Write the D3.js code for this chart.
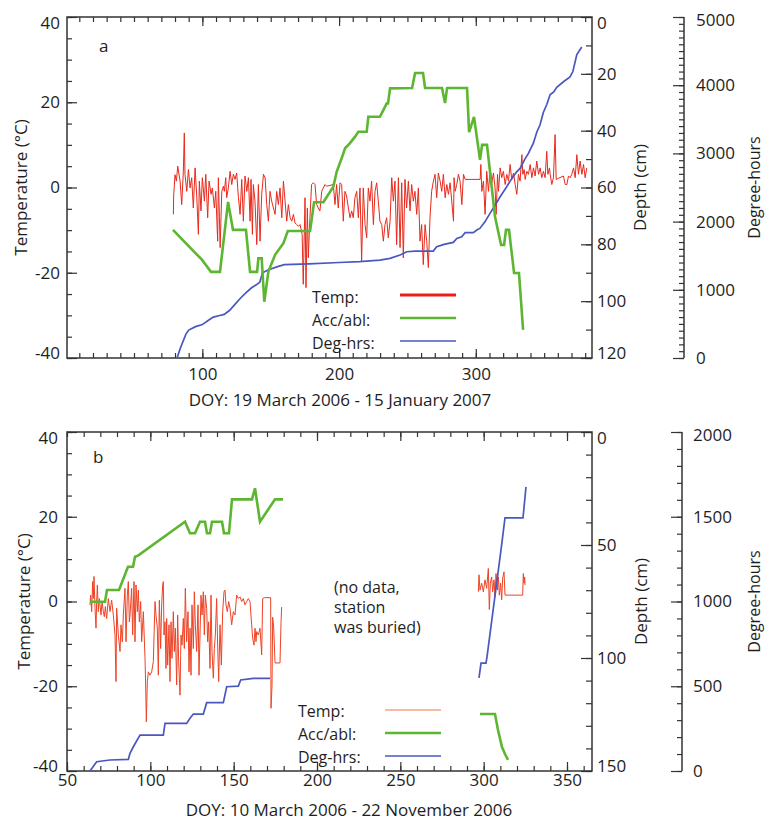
<!DOCTYPE html>
<html>
<head>
<meta charset="utf-8">
<script src="https://cdn.jsdelivr.net/npm/d3@7"></script>
<style>
    body { margin: 0; background: #fff; }
    svg text { font-family: "Open Sans", "Noto Sans", sans-serif; fill: #1e1e1e; }
</style>
</head>
<body>
<div id="chart"></div>
<script>
// ---- panel a: 19 March 2006 - 15 January 2007, [DOY, value] pairs ----
const tempA = [
    [78.8,-6.3],[79.0,-2.0],[80.0,3.0],[81,1.5],[82,5.0],[83.7,1.5],[84.9,-4.0],[86.1,3.8],[86.8,12.8],[87.3,3.1],
    [88.6,-0.9],[89.8,4.2],[91.0,-0.1],[92.2,2.3],[93.4,-4.8],[94.7,4.6],[95.9,-2.0],[97.1,-11.0],[97.8,1.5],[99.0,-5.5],
    [100.0,2.3],[101.5,-3.2],[102.5,3.1],[103.9,-7.1],[104.9,1.5],[106.4,-1.6],[107.3,-0.1],[108.8,-4.8],[109.8,-0.9],[111.2,-12.6],
    [111.7,2.3],[112.5,-7.1],[113.0,-14.1],[114.2,-0.9],[115.4,0.3],[116.1,-0.9],[117.1,2.3],[117.8,-2.4],[119.0,-0.1],[120.3,3.8],
    [121.5,0.7],[122.7,3.1],[123.9,1.9],[125.1,3.4],[126.4,-2.4],[127.6,-6.3],[128.8,1.9],[130.0,-7.9],[131.2,2.7],[132.5,-0.9],
    [133.7,2.3],[134.9,-7.9],[135.6,1.9],[136.6,-11.0],[137.3,0.7],[138.5,-3.2],[139.8,-13.4],[141.0,0.7],[142.2,-12.6],[143.4,-1.6],
    [144.7,3.1],[145.9,2.3],[147.1,-4.0],[148.3,-7.9],[149.5,-0.9],[150.7,-3.2],[152.0,-4.8],[153.2,-6.3],[154.4,-0.9],[155.6,-4.0],
    [156.8,-0.1],[158.1,-7.1],[159.3,1.5],[160.5,-3.2],[161.7,-7.9],[162.9,-4.0],[164.2,-7.1],[165.4,-7.9],[166.6,-6.3],[167.8,-8.3],
    [169.0,-8.7],[170.3,-9.1],[171.5,-8.7],[173.0,-11.0],[173.8,-22.7],[175.1,-2.4],[175.8,-23.5],[176.8,-4.8],[177.5,-16.5],[178.7,-7.1],
    [179.9,0.7],[181.2,1.1],[182.4,0.7],[183.6,-4.0],[184.8,-4.8],[186.0,-5.5],[187.3,-0.9],[188.5,-0.1],[189.7,0.7],[190.9,0.3],
    [195.8,0.7],[197.0,-4.0],[198.2,0.7],[199.4,-4.8],[200.7,1.1],[201.9,0.7],[203.1,-7.9],[204.3,-0.9],[205.5,-2.0],[206.8,-4.8],
    [208.0,-7.1],[209.2,-5.5],[210.4,-7.1],[211.6,-2.4],[212.9,-0.9],[214.1,-7.1],[215.3,-0.1],[216.5,-17.3],[217.7,-0.1],[219.0,-8.7],
    [220.2,-11.8],[221.4,-0.1],[222.6,-3.2],[223.8,1.5],[225.1,-8.7],[226.3,-0.9],[227.5,1.1],[228.7,-3.2],[229.9,-7.9],[231.2,-8.7],
    [232.4,-12.6],[233.6,-8.7],[234.8,-7.1],[236.0,-11.8],[237.3,-7.9],[238.5,2.3],[239.7,-3.2],[240.9,1.5],[242.1,-13.4],[243.4,2.3],
    [244.6,-14.1],[245.8,1.1],[247.0,-16.5],[248.2,1.9],[249.4,-4.8],[250.7,1.5],[251.9,-5.5],[253.1,0.7],[254.3,-3.2],[255.5,-0.9],
    [256.8,-6.3],[258.0,-0.1],[259.2,-12.6],[260.4,-8.7],[261.6,-18.1],[262.9,-8.7],[264.1,-12.6],[265.3,-18.8],[266.5,-7.1],[267.7,-0.9],
    [269.0,1.5],[270.2,3.1],[271.4,-2.4],[272.6,3.4],[273.9,1.5],[275.1,-0.9],[276.3,3.1],[277.6,-2.4],[278.8,0.7],[280.0,-1.6],
    [281.2,1.1],[282.4,-3.2],[283.7,-7.9],[284.1,2.3],[284.9,-0.9],[286.1,0.7],[287.3,3.1],[288.5,1.5],[289.8,-4.0],[291.0,3.1],
    [292.2,1.9],[303.2,1.9],[303.7,5.4],[304.4,-0.9],[305.6,1.5],[306.8,-6.3],[308.0,3.8],[309.3,-0.9],[310.5,4.6],[311.7,1.1],
    [312.9,3.4],[314.1,-0.1],[314.9,-6.3],[315.9,3.1],[316.6,-0.9],[317.8,4.6],[319.0,2.3],[320.2,3.8],[321.5,0.7],[322.7,3.1],
    [323.9,1.5],[325.1,5.4],[326.3,1.9],[327.6,3.4],[328.8,0.7],[330.0,-1.6],[331.2,3.1],[332.4,1.5],[333.7,7.7],[334.4,3.1],
    [335.4,4.2],[336.1,1.9],[337.3,3.8],[338.5,3.1],[339.8,5.4],[341.0,2.3],[342.2,4.6],[343.4,2.7],[344.6,6.2],[345.9,3.1],
    [347.1,4.6],[348.3,2.3],[349.5,3.8],[350.7,2.3],[351.9,8.5],[352.7,3.1],[353.9,4.6],[354.4,3.1],[355.6,0.7],[356.8,2.3],
    [358.0,12.4],[358.8,1.9],[364.1,2.7],[365.4,0.7],[366.6,0.7],[367.8,2.7],[369.0,2.3],[370.2,3.1],[371.5,4.6],[372.7,2.3],
    [373.9,7.7],[375.1,3.1],[376.3,6.2],[377.6,3.1],[378.8,5.4],[380.0,2.3],[381.2,4.6]
];

// accumulation / ablation, depth in cm
const accA = [
    [78.5,74.9],[99.8,85.5],[106.3,89.7],[112.9,89.7],[118.8,65.1],[122.4,74.9],[131.9,74.9],[134.9,89.7],[140.0,89.7],[141.0,84.9],
    [143.4,84.9],[145.3,100.2],[148.3,89.6],[153.2,83.7],[159.3,79.6],[162.5,75.3],[178.8,75.3],[181.7,65.2],[188.5,65.2],[195.8,59.7],
    [198.3,54.4],[201.9,49.7],[204.4,46.2],[208.0,44.4],[211.7,42.1],[214.1,40.4],[220.2,40.4],[221.4,35.1],[229.9,35.1],[234.9,30.4],
    [235.8,30.4],[237.3,25.1],[253.4,25.0],[255.6,19.7],[261.4,19.7],[262.9,25.0],[275.3,25.0],[277.5,30.3],[279.0,25.0],[293.6,25.0],
    [295.1,40.5],[298.7,35.2],[303.1,50.3],[304.6,45.0],[308.2,45.0],[314.1,70.4],[318.5,80.2],[320.7,80.2],[322.1,74.9],[324.3,74.9],
    [328.0,90.1],[331.6,90.1],[334.6,110.1]
];

// cumulative degree-hours
const degA = [
    [81.5,0],[84,150],[88,350],[90,410],[95,460],[100,490],[105,560],[108,600],[112,620],[116,640],
    [120,700],[124,790],[128,880],[132,960],[136,1030],[140,1080],[142,1110],[144,1250],[148,1290],[155,1340],
    [160,1370],[178,1380],[200,1400],[215,1412],[229.9,1436],[237.3,1461],[244.6,1510],[249.5,1558],[255.6,1568],[268.9,1568],
    [271.4,1631],[277.5,1670],[283.6,1695],[286.1,1754],[289.7,1778],[292.2,1837],[298.2,1837],[301,1880],[303,1900],[306.8,2000],
    [310.4,2120],[314.1,2240],[317.7,2360],[322.6,2510],[326.3,2630],[329.9,2730],[332.4,2780],[336,2920],[338.5,3000],[342.1,3150],
    [344.6,3310],[347,3420],[349.4,3600],[352,3720],[354.3,3860],[357,3900],[359.2,3970],[364.1,4050],[368.9,4120],[371,4200],
    [373.9,4450],[377.5,4560]
];

// ---- panel b: 10 March 2006 - 22 November 2006, two pieces around the buried period ----
const tempB1 = [
    [63.8,-0.8],[64.2,1.5],[64.8,-2.4],[65.4,4.7],[65.8,0.7],[66.2,5.9],[66.8,-1.6],[67.4,-6.3],[67.8,0.0],[68.2,3.9],
    [68.8,-2.4],[69.4,0.7],[69.8,-0.8],[70.4,-3.2],[71.0,0.0],[71.8,-2.4],[72.4,-3.6],[73.0,-1.2],[73.8,-4.0],[74.8,0.7],
    [75.8,-2.4],[76.8,0.3],[77.8,-3.2],[78.8,-7.9],[79.4,-18.9],[79.8,-1.6],[80.8,-7.9],[81.8,-11.8],[82.4,-5.5],[83.2,-9.5],
    [83.8,-3.2],[84.8,3.1],[85.4,-9.5],[86.2,1.5],[86.8,4.7],[87.4,-4.8],[87.8,-3.2],[88.8,3.1],[89.4,-7.9],[90.2,4.7],
    [90.8,-9.5],[91.4,3.9],[92.2,-2.4],[92.8,2.7],[93.4,-4.8],[94.2,0.0],[94.8,-9.5],[95.8,-2.4],[96.8,-13.4],[97.2,-19.7],
    [97.6,-28.4],[98.2,-18.9],[98.8,-16.6],[99.8,-17.4],[100.8,-16.6],[101.8,-14.2],[102.8,0.0],[103.4,-3.2],[104.2,-6.3],[104.8,-17.4],
    [105.4,0.3],[106.2,-11.1],[106.8,-0.8],[107.4,3.9],[107.8,4.7],[108.2,-7.9],[108.8,-4.8],[109.4,-15.8],[109.8,-4.0],[110.4,-15.0],
    [111.2,-5.5],[111.8,-18.9],[112.4,-4.8],[113.0,-13.4],[113.8,-2.4],[114.4,-11.8],[115.0,-6.3],[115.8,-19.7],[116.4,-3.2],[117.0,-14.2],
    [117.8,-22.1],[118.4,-7.9],[119.0,-10.3],[119.8,-4.0],[120.4,-11.1],[121.0,3.1],[121.8,-9.5],[122.6,-2.4],[123.2,-16.6],[123.8,-6.3],
    [124.4,-17.4],[125.0,-0.8],[125.8,-11.1],[126.4,2.3],[127.0,-5.5],[127.8,-11.8],[128.6,-0.8],[129.2,-17.4],[129.8,-7.9],[130.4,1.5],
    [131.0,-3.2],[131.8,2.3],[132.4,-7.9],[133.0,1.5],[133.8,-1.6],[134.4,-9.5],[135.0,-4.8],[135.8,-15.8],[136.4,1.5],[137.0,-11.8],
    [137.8,-18.1],[138.4,-11.1],[139.0,-7.9],[139.8,0.7],[140.4,-10.3],[141.0,-18.9],[141.8,-5.5],[142.6,-15.0],[143.4,-2.4],[144.2,2.3],
    [144.8,2.7],[145.4,-0.8],[146.2,-2.4],[147.0,0.0],[147.8,-1.6],[148.8,-5.5],[149.8,-2.4],[150.8,-3.2],[151.8,1.5],[152.8,0.7],
    [153.8,1.1],[154.8,0.0],[155.8,0.7],[156.8,-0.8],[157.8,0.0],[158.8,0.7],[159.8,0.0],[160.8,-5.5],[161.4,-8.7],[162.2,-10.3],
    [162.8,-6.3],[163.4,-9.5],[163.8,-7.1],[164.8,-7.9],[165.8,-6.3],[166.8,-12.6],[167.4,0.7],[168.4,0.9],[172.2,0.9],[172.4,-25.2],
    [173.0,-20.0],[173.4,-3.7],[174.0,-6.0],[174.8,-14.5],[177.8,-14.5],[178.4,-5.0],[178.8,-1.3]
];
const tempB2 = [
    [296.8,2.3],[297.2,6.3],[297.8,2.7],[298.8,4.3],[299.8,2.3],[300.8,5.1],[301.8,3.1],[302.8,7.8],[303.4,-1.9],[304.0,4.3],
    [304.8,5.8],[305.4,2.3],[306.2,5.1],[306.8,1.1],[307.4,6.6],[308.2,2.7],[308.8,5.8],[309.4,1.5],[310.2,4.3],[310.8,0.4],
    [311.4,5.5],[312.2,7.0],[312.8,1.5],[323.4,1.5],[323.8,6.6],[324.2,4.3],[324.6,5.8],[324.8,3.9]
];
const accB1 = [
    [63.8,75.1],[72.8,75.1],[74.0,69.9],[81.2,69.9],[86.6,59.6],[89.6,59.6],[90.8,55.2],[92.6,54.7],[120.8,39.7],[123.8,44.8],
    [126.8,44.8],[129.8,39.7],[132.8,39.7],[134.0,44.8],[135.8,44.8],[137.0,39.7],[143.0,39.7],[144.2,44.8],[147.2,44.8],[149.0,29.8],
    [161.0,29.8],[162.8,24.9],[165.8,39.7],[174.8,29.8],[179.6,29.8]
];
const accB2 = [
    [297.8,124.8],[306.8,124.8],[308.6,131.9],[311.0,139.4],[312.8,142.5],[314.6,145.1]
];
const degB1 = [
    [63.8,0],[67.8,55],[75.8,65],[86.8,69],[87.8,104],[89.8,143],[93.8,212],[107.8,212],[108.8,281],[121.8,281],
    [123.8,311],[125.8,336],[131.8,336],[133.8,403],[143.8,403],[145.8,497],[152.8,501],[154.2,537],[161.8,547],[171.8,547]
];
const degB2 = [
    [297.2,549],[298.4,637],[301.4,637],[302.0,673],[310.4,1304],[312.8,1493],[323.6,1493],[325.4,1676]
];

// tick labels
const tempTicks = [-40, -20, 0, 20, 40];
const xTicksA = [100, 200, 300];
const xTicksB = [50, 100, 150, 200, 250, 300, 350];
const depthTicksA = [0, 20, 40, 60, 80, 100, 120];
const depthTicksB = [0, 50, 100, 150];
const degTicksA = [0, 1000, 2000, 3000, 4000, 5000];
const degTicksB = [0, 500, 1000, 1500, 2000];
const legendLabels = ["Temp:", "Acc/abl:", "Deg-hrs:"];

const width = 767;
const height = 823;
const axisColor = "#333";
const colors = {
    temp: "#e8291c",
    tempB: "#ee4326",
    tempLegendB: "#f5a385",
    acc: "#5cb631",
    deg: "#4a57bf"
};

// plain numbers: hyphen minus, no thousands separator
const plain = d => String(d);

const svg = d3.select("#chart")
    .append("svg")
        .attr("width", width)
        .attr("height", height);

// d3 axis with our own look, the domain line is drawn by the box
function styledAxis(g, axis, fontSize) {
    g.call(axis)
        .attr("font-family", null)
        .attr("font-size", fontSize)
        .attr("color", axisColor);
    g.select(".domain").remove();
    g.selectAll(".tick line").attr("stroke-width", 1.2);
    return g;
}

function drawPanel(cfg) {
    const { left, right, top, bottom } = cfg.box;
    const g = svg.append("g");

    const x = d3.scaleLinear().domain(cfg.xDomain).range([left, right]);
    const yT = d3.scaleLinear().domain([-40, 40]).range([bottom, top]);
    const yD = d3.scaleLinear().domain([0, cfg.depthMax]).range([top, bottom]);
    const yH = d3.scaleLinear().domain([0, cfg.degMax]).range([bottom, top]);

    // shift the labels at the box corners inward, like the original
    const nudge = scale => d => {
        const py = scale(d);
        if (py <= top + 1) return 6;
        if (py >= bottom - 1) return -5;
        return 0;
    };

    // temperature, left
    styledAxis(g.append("g").attr("transform", `translate(${left},0)`),
        d3.axisLeft(yT).tickValues(d3.range(-40, 41, 5)).tickSize(-5).tickFormat(""), 17);
    styledAxis(g.append("g").attr("transform", `translate(${left},0)`),
        d3.axisLeft(yT).tickValues(tempTicks).tickSize(-10).tickPadding(cfg.leftPad).tickFormat(plain), 17)
        .selectAll(".tick text").attr("y", nudge(yT));

    // depth, right
    styledAxis(g.append("g").attr("transform", `translate(${right},0)`),
        d3.axisRight(yD).tickValues(d3.range(0, cfg.depthMax + 1, 10)).tickSize(-6).tickFormat(""), 17);
    styledAxis(g.append("g").attr("transform", `translate(${right},0)`),
        d3.axisRight(yD).tickValues(cfg.depthTicks).tickSize(-11).tickPadding(5).tickFormat(plain), 17)
        .selectAll(".tick text").attr("y", nudge(yD));

    // DOY, bottom and top
    const minorX = d3.range(Math.ceil(cfg.xDomain[0] / 10) * 10, cfg.xDomain[1], 10);
    styledAxis(g.append("g").attr("transform", `translate(0,${bottom})`),
        d3.axisBottom(x).tickValues(minorX).tickSize(-5).tickFormat(""), 17);
    styledAxis(g.append("g").attr("transform", `translate(0,${bottom})`),
        d3.axisBottom(x).tickValues(cfg.xTicks).tickSize(-9).tickPadding(cfg.bottomPad).tickFormat(plain), 17);
    styledAxis(g.append("g").attr("transform", `translate(0,${top})`),
        d3.axisTop(x).tickValues(minorX).tickSize(-5).tickFormat(""), 17);
    styledAxis(g.append("g").attr("transform", `translate(0,${top})`),
        d3.axisTop(x).tickValues(cfg.xTicks.filter(v => v > cfg.xDomain[0] && v < cfg.xDomain[1]))
            .tickSize(-9).tickFormat(""), 17);

    // plot box
    g.append("rect")
        .attr("x", left).attr("y", top)
        .attr("width", right - left).attr("height", bottom - top)
        .attr("fill", "none")
        .attr("stroke", axisColor)
        .attr("stroke-width", 1.5);

    // separate degree-hours axis
    styledAxis(g.append("g").attr("transform", `translate(${cfg.degX},0)`),
        d3.axisRight(yH).tickValues(d3.range(0, cfg.degMax + 1, 100)).tickSize(-5).tickFormat(""), 17);
    styledAxis(g.append("g").attr("transform", `translate(${cfg.degX},0)`),
        d3.axisRight(yH).tickValues(cfg.degTicks).tickSize(-11).tickPadding(cfg.degPad).tickFormat(plain), 17)
        .selectAll(".tick text").attr("y", d => yH(d) <= top + 1 ? 3 : 0);
    g.append("line")
        .attr("x1", cfg.degX).attr("x2", cfg.degX)
        .attr("y1", top).attr("y2", bottom)
        .attr("stroke", axisColor)
        .attr("stroke-width", 1.5);

    // series
    const tempLine = d3.line().x(d => x(d[0])).y(d => yT(d[1]));
    const accLine = d3.line().x(d => x(d[0])).y(d => yD(d[1]));
    const degLine = d3.line().x(d => x(d[0])).y(d => yH(d[1]));

    cfg.temp.forEach(series => g.append("path")
        .attr("d", tempLine(series))
        .attr("fill", "none")
        .attr("stroke", cfg.tempColor)
        .attr("stroke-width", 1)
        .attr("stroke-linejoin", "round"));
    cfg.deg.forEach(series => g.append("path")
        .attr("d", degLine(series))
        .attr("fill", "none")
        .attr("stroke", colors.deg)
        .attr("stroke-width", 1.7));
    cfg.acc.forEach(series => g.append("path")
        .attr("d", accLine(series))
        .attr("fill", "none")
        .attr("stroke", colors.acc)
        .attr("stroke-width", 2.6));

    // legend
    const legendColors = [cfg.legendTemp, colors.acc, colors.deg];
    const legendWidths = [cfg.legendTempWidth, 2.6, 1.7];
    legendLabels.forEach((label, i) => {
        g.append("text")
            .attr("x", cfg.legend.x)
            .attr("y", cfg.legend.y + i * cfg.legend.step)
            .attr("font-size", 16)
            .text(label);
        g.append("line")
            .attr("x1", cfg.legend.x1).attr("x2", cfg.legend.x2)
            .attr("y1", cfg.legend.lineY + i * cfg.legend.step)
            .attr("y2", cfg.legend.lineY + i * cfg.legend.step)
            .attr("stroke", legendColors[i])
            .attr("stroke-width", legendWidths[i]);
    });

    // panel letter and titles
    g.append("text")
        .attr("x", cfg.letter[0]).attr("y", cfg.letter[1])
        .attr("font-size", 17)
        .text(cfg.letter[2]);

    g.append("text")
        .attr("x", cfg.xTitle[0]).attr("y", cfg.xTitle[1])
        .attr("text-anchor", "middle")
        .attr("font-size", 17)
        .text(cfg.xTitle[2]);

    const midY = (top + bottom) / 2;
    [[cfg.titleX[0], "Temperature (°C)", 17], [cfg.titleX[1], "Depth (cm)", 17], [cfg.titleX[2], "Degree-hours", 16]]
        .forEach(([tx, label, size]) => g.append("text")
            .attr("transform", `translate(${tx},${midY}) rotate(-90)`)
            .attr("text-anchor", "middle")
            .attr("font-size", size)
            .text(label));

    return g;
}

drawPanel({
    box: { left: 67, right: 592, top: 17, bottom: 358 },
    xDomain: [1, 385],
    xTicks: xTicksA,
    depthMax: 120,
    depthTicks: depthTicksA,
    degMax: 5000,
    degTicks: degTicksA,
    degX: 684,
    degPad: 12,
    leftPad: 7,
    bottomPad: 10,
    temp: [tempA],
    acc: [accA],
    deg: [degA],
    tempColor: colors.temp,
    legendTemp: "#ec1e1a",
    legendTempWidth: 3,
    legend: { x: 312, y: 303, step: 23, x1: 400, x2: 456, lineY: 295 },
    letter: [99, 52, "a"],
    xTitle: [340, 406, "DOY: 19 March 2006 - 15 January 2007"],
    titleX: [27, 646, 760]
});

const panelB = drawPanel({
    box: { left: 67, right: 592, top: 432, bottom: 771 },
    xDomain: [50, 365],
    xTicks: xTicksB,
    depthMax: 150,
    depthTicks: depthTicksB,
    degMax: 2000,
    degTicks: degTicksB,
    degX: 682,
    degPad: 11,
    leftPad: 9,
    bottomPad: 3,
    temp: [tempB1, tempB2],
    acc: [accB1, accB2],
    deg: [degB1, degB2],
    tempColor: colors.tempB,
    legendTemp: colors.tempLegendB,
    legendTempWidth: 1.6,
    legend: { x: 298, y: 717, step: 23, x1: 385, x2: 441, lineY: 710 },
    letter: [93, 463, "b"],
    xTitle: [349, 816, "DOY: 10 March 2006 - 22 November 2006"],
    titleX: [30, 647, 760]
});

// note in the gap of panel b
["(no data,", "station", "was buried)"].forEach((line, i) => {
    panelB.append("text")
        .attr("x", 334)
        .attr("y", 593 + i * 20)
        .attr("font-size", 16)
        .text(line);
});
</script>
</body>
</html>
